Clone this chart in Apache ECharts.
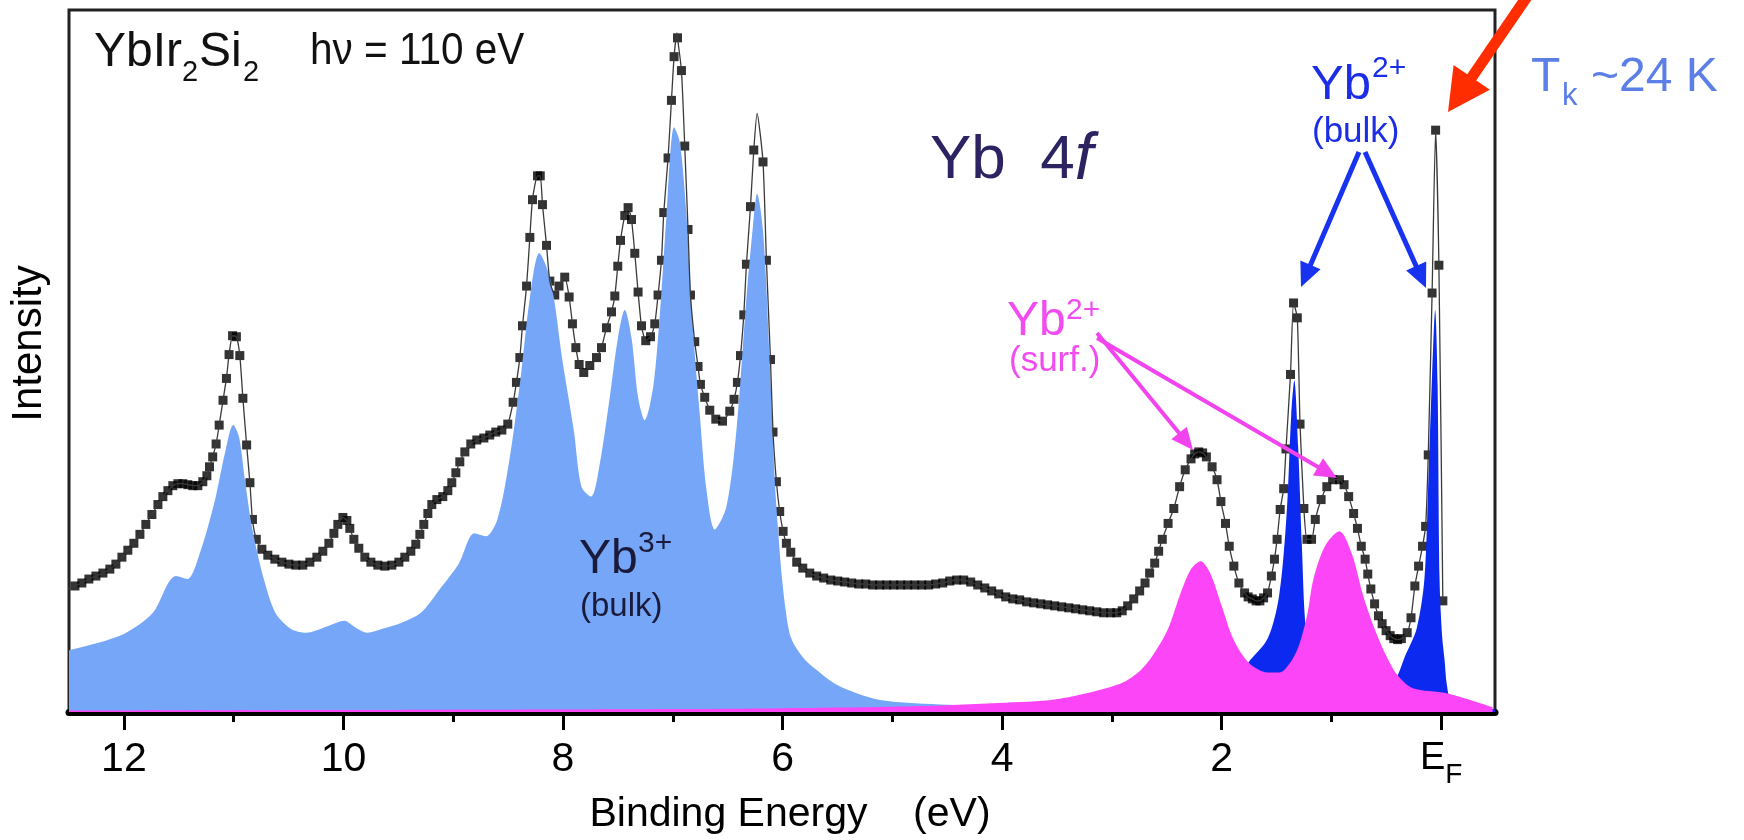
<!DOCTYPE html>
<html>
<head>
<meta charset="utf-8">
<script src="https://cdn.jsdelivr.net/npm/echarts@6/dist/echarts.min.js"></script>
<style>
html,body{margin:0;padding:0;background:#fff;}
#chart{width:1744px;height:840px;}
</style>
</head>
<body>
<div id="chart"></div>
<script>
// ---------------- data (binding energy in eV, intensity in arbitrary units) ----------------
const majorTicks = [0, 2, 4, 6, 8, 10, 12];
const tickLabels = ['E_F', '2', '4', '6', '8', '10', '12'];
const minorTicks = [1, 3, 5, 7, 9, 11];

// experimental spectrum (black squares)
const expE = [12.510,12.446,12.383,12.319,12.255,12.191,12.128,12.073,12.018,11.964,
11.909,11.854,11.800,11.745,11.690,11.645,11.599,11.554,11.508,11.463,
11.417,11.372,11.326,11.281,11.244,11.220,11.191,11.160,11.132,11.097,
11.066,11.042,11.010,10.975,10.944,10.916,10.882,10.852,10.829,10.794,
10.743,10.689,10.625,10.561,10.497,10.434,10.370,10.306,10.242,10.188,
10.133,10.087,10.051,10.005,9.969,9.942,9.905,9.860,9.805,9.750,
9.687,9.623,9.559,9.495,9.441,9.386,9.341,9.304,9.268,9.231,
9.195,9.149,9.095,9.049,9.013,8.976,8.940,8.894,8.840,8.785,
8.721,8.667,8.612,8.557,8.503,8.454,8.424,8.393,8.369,8.332,
8.302,8.278,8.232,8.207,8.187,8.150,8.120,8.075,8.036,7.984,
7.944,7.914,7.883,7.853,7.811,7.756,7.695,7.649,7.604,7.558,
7.528,7.501,7.476,7.437,7.407,7.376,7.346,7.316,7.285,7.246,
7.203,7.164,7.134,7.103,7.082,7.043,7.012,6.988,6.957,6.921,
6.891,6.861,6.839,6.800,6.770,6.748,6.709,6.663,6.608,6.547,
6.481,6.442,6.411,6.383,6.353,6.329,6.292,6.262,6.178,6.147,
6.110,6.087,6.056,6.026,5.995,5.965,5.925,5.871,5.816,5.752,
5.689,5.625,5.561,5.497,5.434,5.370,5.306,5.242,5.179,5.115,
5.051,4.987,4.924,4.860,4.796,4.732,4.669,4.605,4.541,4.477,
4.414,4.350,4.286,4.222,4.158,4.095,4.031,3.967,3.903,3.840,
3.776,3.712,3.648,3.585,3.521,3.457,3.393,3.330,3.266,3.202,
3.138,3.075,3.011,2.956,2.906,2.856,2.801,2.747,2.698,2.656,
2.610,2.574,2.541,2.488,2.436,2.383,2.332,2.279,2.246,2.209,
2.173,2.139,2.087,2.042,2.007,1.965,1.931,1.889,1.843,1.791,
1.759,1.721,1.686,1.652,1.618,1.582,1.547,1.519,1.495,1.467,
1.435,1.414,1.373,1.345,1.311,1.286,1.251,1.223,1.181,1.147,
1.094,1.042,0.989,0.927,0.885,0.843,0.798,0.763,0.728,0.693,
0.669,0.641,0.607,0.571,0.538,0.502,0.465,0.432,0.397,0.363,
0.310,0.275,0.240,0.206,0.170,0.142,0.118,0.083,0.051,0.021,
-0.015];
const expI = [124,127,130,134,137,140,144,149,156,163,
170,179,189,199,209,217,223,228,230,230,
229,228,228,232,238,247,257,270,289,314,
336,360,379,378,359,316,269,231,194,174,
164,158,154,151,149,148,148,151,156,162,
170,180,189,196,193,185,174,165,156,151,
148,147,148,151,156,162,169,179,189,200,
209,214,217,223,231,241,252,262,270,274,
276,279,282,284,290,312,332,357,389,429,
478,516,540,540,511,470,434,420,429,438,
418,391,367,350,342,349,357,367,387,403,
419,449,475,500,508,496,462,423,389,374,
378,391,420,455,503,558,616,660,679,646,
570,486,420,373,348,330,317,304,295,293,
303,315,332,359,400,451,509,566,554,455,
355,282,232,202,182,170,161,151,145,140,
137,135,133,132,131,130,129,129,128,128,
128,128,128,128,128,128,128,129,130,132,
133,133,131,128,125,122,119,116,114,113,
111,110,109,108,107,106,105,104,103,102,
101,100,100,100,102,107,114,122,130,140,
150,162,174,190,205,227,244,255,260,262,
261,257,247,234,212,190,167,147,130,120,
116,114,112,112,115,120,137,154,174,204,
225,265,340,412,397,290,205,174,174,194,
214,227,234,234,229,217,200,185,167,154,
139,124,109,97,89,82,77,74,73,74,
80,95,127,147,167,187,259,422,586,450,
112];

// extra apex points of the fit curve (thin line)
const fitApexE = [6.962, 6.232];
const fitApexI = [684, 603];

// Yb3+ bulk component (light blue)
const yb3E = [12.510,12.258,11.979,11.736,11.596,11.526,11.422,11.317,11.178,11.073,
11.004,10.951,10.898,10.829,10.725,10.620,10.481,10.341,10.133,9.993,
9.888,9.783,9.644,9.470,9.295,9.121,8.947,8.808,8.703,8.598,
8.494,8.389,8.302,8.216,8.111,8.005,7.902,7.832,7.744,7.665,
7.574,7.499,7.437,7.376,7.316,7.255,7.179,7.118,7.057,6.988,
6.936,6.875,6.815,6.754,6.693,6.617,6.511,6.420,6.329,6.269,
6.232,6.177,6.116,6.071,6.041,6.007,5.971,5.935,5.889,5.798,
5.707,5.497,5.182,4.932,4.350,3.111,1.290,-0.49];
const yb3I = [62,69,80,100,130,137,134,157,210,264,
289,277,234,184,134,100,84,80,87,92,
85,80,84,90,100,124,150,180,177,194,
250,334,417,462,434,354,284,227,217,250,
317,377,405,377,317,294,327,400,500,589,
574,500,384,300,224,184,207,284,417,490,
522,484,350,234,184,137,102,79,67,53,
44,27,14,10,7,5,4,3];

// Yb2+ bulk component, 1.35 eV peak (blue)
const yb2aE = [4.0,3.0,2.200,1.927,1.756,1.581,1.477,1.408,1.366,1.338,1.303,1.269,1.233,1.153,0.925,0.379,-0.49];
const yb2aI = [3,6,12,22,50,74,117,200,300,334,267,167,84,37,17,7,3];

// Yb2+ bulk component, Fermi level peak (blue)
const yb2bE = [1.5,0.925,0.600,0.433,0.327,0.224,0.153,0.118,0.083,0.055,0.033,0.015,-0.008,-0.031,-0.052,-0.092,-0.259,-0.49];
const yb2bI = [4,10,18,30,57,84,134,230,340,405,330,134,77,52,27,12,6,3];

// Yb2+ surface component (magenta)
const ybsE = [12.5,10.0,8.0,7.0,6.0,5.0,4.5,4.090,3.571,3.312,3.051,2.895,2.740,2.628,2.488,2.383,2.279,
2.191,2.105,2.000,1.896,1.756,1.581,1.472,1.362,1.290,1.217,
1.164,1.059,0.927,0.816,0.710,0.607,0.502,0.397,0.258,-0.049,-0.468];
const ybsI = [1.5,2,2.5,3,4,5.5,7,9,12,17,24,30,42,57,84,117,144,
152,140,107,74,50,40,40,52,69,100,
134,167,182,160,117,84,57,37,24,19,5];

// ---------------- chart ----------------
const pairs = (E, I) => E.map((e, i) => [e, I[i]]);
const fitData = pairs(expE, expI).concat(pairs(fitApexE, fitApexI)).sort((a, b) => b[0] - a[0]);

const FONT = "'Liberation Sans', Arial, Helvetica, sans-serif";

function txt(text, x, y, size, color, opts) {
  opts = opts || {};
  const el = {
    type: 'text', x: x, y: y, z: 100, silent: true,
    style: Object.assign({
      text: text, fontSize: size, fontFamily: FONT,
      fontStyle: opts.italic ? 'italic' : 'normal',
      fill: color, align: 'left', verticalAlign: 'middle',
      textAlign: 'left', textVerticalAlign: 'middle'
    }, opts.style || {})
  };
  if (opts.scaleX) el.scaleX = opts.scaleX;
  return el;
}
function arrow(x1, y1, x2, y2, w, hl, hw, color) {
  const dx = x2 - x1, dy = y2 - y1, L = Math.hypot(dx, dy), ux = dx / L, uy = dy / L;
  const bx = x2 - ux * hl, by = y2 - uy * hl, px = -uy, py = ux;
  return [
    {type: 'line', z: 100, silent: true, shape: {x1: x1, y1: y1, x2: bx + ux * 2, y2: by + uy * 2},
     style: {stroke: color, lineWidth: w}},
    {type: 'polygon', z: 100, silent: true,
     shape: {points: [[x2, y2], [bx + px * hw / 2, by + py * hw / 2], [bx - px * hw / 2, by - py * hw / 2]]},
     style: {fill: color}}
  ];
}

const chart = echarts.init(document.getElementById('chart'), null, {renderer: 'canvas'});

const graphics = [].concat(
  [
    txt('YbIr', 94, 52.5, 48, '#111'),
    txt('2', 182, 73, 29, '#111'),
    txt('Si', 199, 52.5, 48, '#111'),
    txt('2', 243, 73, 29, '#111'),
    txt('h\u03bd = 110 eV', 310, 52, 45, '#111', {scaleX: 0.9}),
    {
      type: 'text', x: 930, y: 161, z: 100, silent: true,
      style: {
        text: '{a|Yb  4}{b|f}', fill: '#2c2462', fontSize: 62, fontFamily: FONT,
        align: 'left', verticalAlign: 'middle', textAlign: 'left', textVerticalAlign: 'middle',
        rich: {
          a: {fontSize: 62, fontFamily: FONT, fill: '#2c2462'},
          b: {fontSize: 66, fontFamily: FONT, fontStyle: 'italic', fill: '#2c2462'}
        }
      }
    },
    txt('Yb', 579, 560, 48, '#1a1a3a'),
    txt('3+', 638, 544, 30, '#1a1a3a'),
    txt('(bulk)', 580, 607, 33, '#1a1a3a'),
    txt('Yb', 1311, 85, 49, '#1b2ee6'),
    txt('2+', 1372, 69, 30, '#1b2ee6'),
    txt('(bulk)', 1312, 132, 35, '#1b2ee6'),
    txt('Yb', 1007, 322, 48, '#f04cf0'),
    txt('2+', 1066, 311, 30, '#f04cf0'),
    txt('(surf.)', 1009, 361, 35, '#f04cf0'),
    txt('T', 1531, 77.5, 48, '#5b7fe5'),
    txt('k', 1562, 96, 31, '#5b7fe5'),
    txt('~24 K', 1591, 77.5, 48, '#5b7fe5')
  ],
  arrow(1359, 152, 1301, 287, 5, 24, 22, '#1733f0'),
  arrow(1365, 152, 1426, 288, 5, 24, 22, '#1733f0'),
  arrow(1097, 333, 1193, 450, 4, 22, 20, '#f244ee'),
  arrow(1097, 338, 1337, 478, 4, 22, 20, '#f244ee'),
  arrow(1535, -15, 1448, 112, 11, 42, 44, '#ff2d00')
);

const areaSeries = (name, E, I, color) => ({
  name: name, type: 'line', data: pairs(E, I), showSymbol: false, smooth: 0.3,
  lineStyle: {width: 0, opacity: 0}, areaStyle: {color: color, opacity: 1}, silent: true
});

const option = {
  animation: false,
  backgroundColor: '#ffffff',
  grid: {left: 69, right: 249, top: 10, bottom: 123, show: true, borderColor: '#222', borderWidth: 3, backgroundColor: 'transparent', containLabel: false},
  xAxis: [
    {
      type: 'value', min: -0.49, max: 12.5, inverse: true, position: 'bottom',
      name: 'Binding Energy    (eV)', nameLocation: 'middle', nameGap: 79,
      nameTextStyle: {fontSize: 41, fontFamily: FONT, color: '#000', padding: [0, 0, 0, 16]},
      axisLine: {show: true, onZero: false, lineStyle: {color: '#000', width: 7}},
      axisTick: {show: true, customValues: majorTicks, length: 18, inside: false, lineStyle: {color: '#000', width: 3}},
      axisLabel: {
        show: true, customValues: majorTicks, margin: 27, fontSize: 41, fontFamily: FONT, color: '#000',
        formatter: function (v) {
          const i = majorTicks.indexOf(Math.round(v));
          const t = i >= 0 ? tickLabels[i] : '';
          return t === 'E_F' ? '{e|E}{f|F}' : t;
        },
        rich: {
          e: {fontSize: 38, fontFamily: FONT, color: '#000', lineHeight: 41, verticalAlign: 'top'},
          f: {fontSize: 28, fontFamily: FONT, color: '#000', lineHeight: 72}
        }
      },
      splitLine: {show: false}
    },
    {
      type: 'value', min: -0.49, max: 12.5, inverse: true, position: 'bottom',
      axisLine: {show: false},
      axisTick: {show: true, customValues: minorTicks, length: 10, inside: false, lineStyle: {color: '#000', width: 3}},
      axisLabel: {show: false},
      splitLine: {show: false}
    }
  ],
  yAxis: {
    type: 'value', min: 0, max: 707,
    name: 'Intensity', nameLocation: 'middle', nameGap: 19, nameRotate: 90,
    nameTextStyle: {fontSize: 42, fontFamily: FONT, color: '#000', padding: [0, 0, 0, 35]},
    axisLine: {show: false}, axisTick: {show: false}, axisLabel: {show: false}, splitLine: {show: false}
  },
  series: [
    areaSeries('Yb3+ (bulk)', yb3E, yb3I, '#76a6f7'),
    areaSeries('Yb2+ (bulk) 1.35 eV', yb2aE, yb2aI, '#0b29ef'),
    areaSeries('Yb2+ (bulk) EF', yb2bE, yb2bI, '#0b29ef'),
    areaSeries('Yb2+ (surf.)', ybsE, ybsI, '#fb45f6'),
    {name: 'fit', type: 'line', data: fitData, showSymbol: false, smooth: 0.2,
     lineStyle: {color: '#3a3a3a', width: 1.3}, silent: true},
    {name: 'experiment', type: 'scatter', data: pairs(expE, expI), symbol: 'rect', symbolSize: 9,
     itemStyle: {color: '#000'}, silent: true}
  ],
  graphic: graphics
};
chart.setOption(option);
</script>
</body>
</html>
